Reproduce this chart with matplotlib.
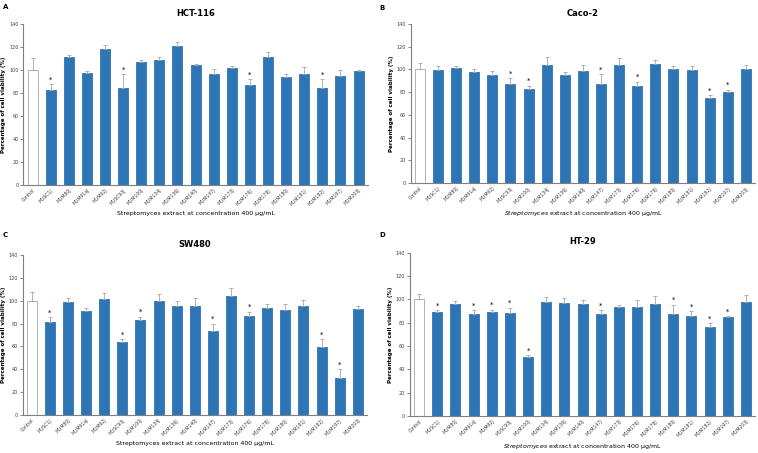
import matplotlib
matplotlib.use('Agg')
import matplotlib.pyplot as plt

LABELS = ['Control', 'MUSC1J', 'MUM80J', 'MUM91aJ', 'MUM92J', 'MUSC93J', 'MUM100J',
          'MUM134J', 'MUM136J', 'MUM140J', 'MUM147J', 'MUM173J', 'MUM176J',
          'MUM178J', 'MUM180J', 'MUM181J', 'MUM182J', 'MUM197J', 'MUM203J']

# HCT-116
hct_vals = [100, 82.5, 111, 97, 118, 84.5, 107, 109, 121, 104, 96.5, 101.5, 87, 111.5, 94, 96.5, 84, 95, 99]
hct_err = [10, 5, 2, 2, 4, 12, 2, 2.5, 3, 1.5, 4.5, 2, 5, 4.5, 2.5, 6, 8, 5, 1]
hct_sig = [1, 5, 12, 16]

# Caco-2
caco_vals = [100, 99.5, 101, 97.5, 95.5, 87.5, 82.5, 104, 95.5, 98.5, 87, 103.5, 85.5, 104.5, 100.5, 99.5, 75, 80, 100]
caco_err = [6, 3.5, 2, 3, 3, 5, 3, 7, 2, 5.5, 9, 6.5, 3.5, 3.5, 2.5, 3.5, 2.5, 2, 3.5]
caco_sig = [5, 6, 10, 12, 16, 17]

# SW480
sw_vals = [100, 81.5, 99, 91, 101.5, 63.5, 83, 100, 95, 95, 73.5, 104, 87, 94, 92, 95, 59.5, 32.5, 92.5]
sw_err = [7.5, 4, 3.5, 2.5, 5, 3, 3, 6, 5, 7, 6.5, 7, 3.5, 3, 5, 5.5, 7, 7.5, 3]
sw_sig = [1, 5, 6, 10, 12, 16, 17]

# HT-29
ht_vals = [100, 89, 96, 87.5, 89.5, 88.5, 50.5, 98, 96.5, 96, 87.5, 93.5, 93.5, 96, 87.5, 85.5, 76.5, 84.5, 98]
ht_err = [4.5, 1.5, 3, 3, 1.5, 4.5, 1.5, 4, 5, 3.5, 3, 1.5, 6, 6.5, 8, 4.5, 3, 1, 5.5]
ht_sig = [1, 3, 4, 5, 6, 10, 14, 15, 16, 17]

BLUE = '#2E75B6'
GREY = '#A6A6A6'


def draw_panel(ax, title, vals, errs, sig, italic):
    x = list(range(len(LABELS)))
    colors = ['white'] + [BLUE] * (len(vals) - 1)
    edges = [GREY] + [BLUE] * (len(vals) - 1)
    ax.bar(x, vals, width=0.55, color=colors, edgecolor=edges, linewidth=0.6, zorder=2)
    ax.errorbar(x, vals, yerr=[[0] * len(errs), errs], fmt='none', ecolor=GREY,
                elinewidth=0.6, capsize=1.5, capthick=0.6, zorder=3)
    for i in sig:
        ax.text(i, vals[i] + errs[i] + 1.5, '*', ha='center', va='bottom', fontsize=5)
    ax.set_xlim(-0.5, len(LABELS) - 0.5)
    ax.set_ylim(0, 140)
    ax.set_yticks(range(0, 141, 20))
    ax.tick_params(axis='y', labelsize=3.5, length=2, width=0.5, color='#595959',
                   labelcolor='#404040', pad=1.5)
    ax.set_xticks(x)
    ax.set_xticklabels(LABELS, rotation=45, ha='right', rotation_mode='anchor',
                       fontsize=3.3, color='#404040')
    ax.tick_params(axis='x', length=0, pad=2)
    for side in ['top', 'right']:
        ax.spines[side].set_visible(False)
    ax.spines['left'].set_color('#7F7F7F')
    ax.spines['bottom'].set_color('#7F7F7F')
    ax.spines['left'].set_linewidth(0.8)
    ax.spines['bottom'].set_linewidth(0.8)
    ax.set_title(title, fontsize=6, fontweight='bold', pad=6)
    ax.set_ylabel('Percentage of cell viability (%)', fontsize=4, fontweight='bold', labelpad=2)
    if italic:
        xl = r'$\it{Streptomyces}$ extract at concentration 400 μg/mL'
    else:
        xl = 'Streptomyces extract at concentration 400 μg/mL'
    ax.set_xlabel(xl, fontsize=4.5, labelpad=3)


fig = plt.figure(figsize=(7.58, 4.53), dpi=100)
plt.rcParams['mathtext.fontset'] = 'dejavusans'

ax_a = fig.add_axes([0.031, 0.592, 0.454, 0.355])
ax_b = fig.add_axes([0.542, 0.596, 0.454, 0.351])
ax_c = fig.add_axes([0.030, 0.084, 0.454, 0.353])
ax_d = fig.add_axes([0.541, 0.082, 0.455, 0.360])

draw_panel(ax_a, 'HCT-116', hct_vals, hct_err, hct_sig, False)
draw_panel(ax_b, 'Caco-2', caco_vals, caco_err, caco_sig, True)
draw_panel(ax_c, 'SW480', sw_vals, sw_err, sw_sig, False)
draw_panel(ax_d, 'HT-29', ht_vals, ht_err, ht_sig, True)

fig.text(0.004, 0.992, 'A', fontsize=5, fontweight='bold', va='top')
fig.text(0.500, 0.990, 'B', fontsize=5, fontweight='bold', va='top')
fig.text(0.004, 0.487, 'C', fontsize=5, fontweight='bold', va='top')
fig.text(0.500, 0.487, 'D', fontsize=5, fontweight='bold', va='top')

fig.savefig('out.png', dpi=100)
